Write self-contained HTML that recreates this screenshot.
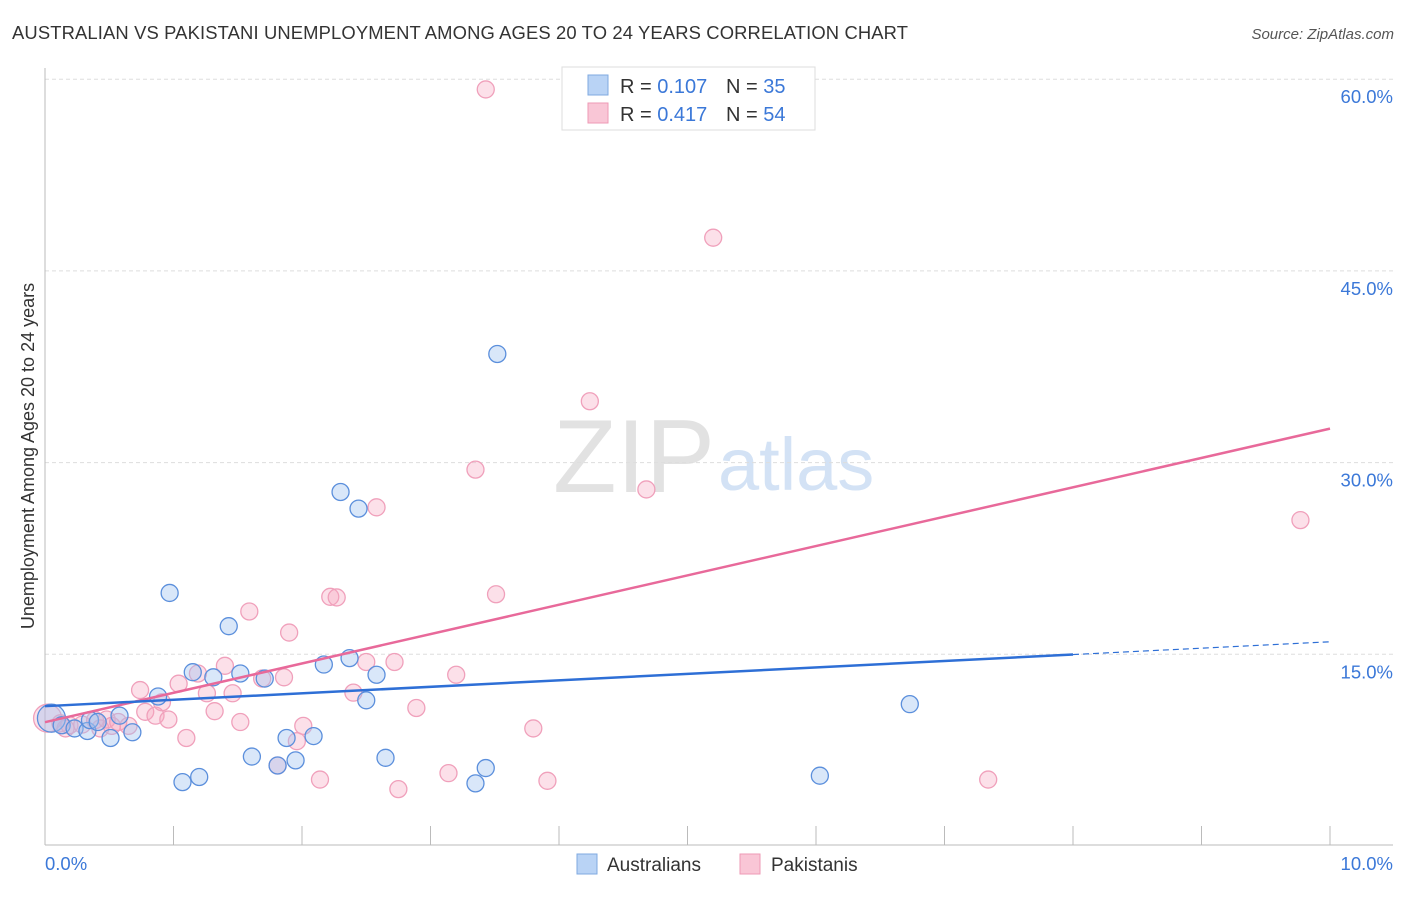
<!DOCTYPE html>
<html><head><meta charset="utf-8"><style>
body{margin:0;background:#fff;font-family:"Liberation Sans",sans-serif}
svg text{font-family:"Liberation Sans",sans-serif}
</style></head><body>
<svg width="1406" height="892" viewBox="0 0 1406 892" xmlns="http://www.w3.org/2000/svg">
<text x="12" y="39" font-size="18.4" fill="#333" textLength="896">AUSTRALIAN VS PAKISTANI UNEMPLOYMENT AMONG AGES 20 TO 24 YEARS CORRELATION CHART</text>
<text x="1394" y="39" font-size="15" fill="#555" text-anchor="end" font-style="italic">Source: ZipAtlas.com</text>
<g>
<text x="553" y="492" font-size="104" fill="#e2e2e2" font-family="Liberation Serif,serif" textLength="162">ZIP</text>
<text x="718" y="490" font-size="74" fill="#d3e2f5">atlas</text>
</g>
<g id="grid"></g>
<g id="axes"></g>
<g id="pts"></g>
<g id="lines"></g>
<g>
<rect x="562" y="67" width="253" height="63" fill="#fff" stroke="#ddd"/>
<rect x="588" y="75" width="20" height="20" fill="#b9d3f5" stroke="#7fa9e0"/>
<rect x="588" y="103" width="20" height="20" fill="#f9c6d6" stroke="#ee9ab5"/>
<text x="620" y="93" font-size="20" fill="#333">R = <tspan fill="#3b78d8">0.107</tspan><tspan x="726">N = </tspan><tspan fill="#3b78d8">35</tspan></text>
<text x="620" y="121" font-size="20" fill="#333">R = <tspan fill="#3b78d8">0.417</tspan><tspan x="726">N = </tspan><tspan fill="#3b78d8">54</tspan></text>
</g>
<g>
<rect x="577" y="854" width="20" height="20" fill="#b9d3f5" stroke="#7fa9e0"/>
<text x="607" y="871" font-size="19" fill="#333">Australians</text>
<rect x="740" y="854" width="20" height="20" fill="#f9c6d6" stroke="#ee9ab5"/>
<text x="771" y="871" font-size="19" fill="#333">Pakistanis</text>
</g>
<text transform="translate(34,456) rotate(-90)" font-size="18" fill="#333" text-anchor="middle">Unemployment Among Ages 20 to 24 years</text>
</svg>
<script>
const yTicks=[15,30,45,60];
const yTickLabels=["15.0%","30.0%","45.0%","60.0%"];
const xTicks=[0,1,2,3,4,5,6,7,8,9,10];
const ausX=[0.05,0.13,0.23,0.33,0.35,0.41,0.51,0.58,0.68,0.88,0.97,1.07,1.2,1.15,1.31,1.43,1.52,1.61,1.71,1.81,1.88,1.95,2.09,2.17,2.3,2.37,2.44,2.5,2.58,2.65,3.35,3.43,3.52,6.03,6.73];
const ausY=[10.0,9.45,9.2,9.0,9.85,9.7,8.45,10.2,8.9,11.7,19.8,5.0,5.4,13.6,13.2,17.2,13.5,7.0,13.1,6.3,8.45,6.7,8.6,14.2,27.7,14.7,26.4,11.4,13.4,6.9,4.9,6.1,38.5,5.5,11.1];
const pakX=[0.02,0.12,0.16,0.19,0.29,0.39,0.43,0.48,0.52,0.57,0.65,0.74,0.78,0.86,0.91,0.96,1.04,1.1,1.19,1.26,1.32,1.4,1.46,1.52,1.59,1.69,1.81,1.86,1.9,1.96,2.01,2.14,2.22,2.27,2.4,2.5,2.58,2.72,2.75,2.89,3.14,3.2,3.35,3.43,3.51,3.8,3.91,4.24,4.68,5.2,7.34,9.77];
const pakY=[10.0,9.6,9.2,9.45,9.5,9.85,9.2,9.9,9.4,9.7,9.4,12.2,10.5,10.2,11.25,9.9,12.7,8.45,13.5,11.95,10.55,14.1,11.95,9.7,18.35,13.1,6.3,13.2,16.7,8.2,9.4,5.2,19.5,19.45,12.0,14.4,26.5,14.4,4.45,10.8,5.7,13.4,29.45,59.2,19.7,9.2,5.1,34.8,27.9,47.6,5.2,25.5];
const ausTrend=[[0,10.94],[8,14.98],[10,15.98]];
const pakTrend=[[0,9.69],[10,32.66]];
const NS="http://www.w3.org/2000/svg";
const X=v=>45+v*128.5, Y=v=>846-v*12.78;
function mk(p,t,a){const e=document.createElementNS(NS,t);for(const k in a)e.setAttribute(k,a[k]);document.getElementById(p).appendChild(e);return e;}
yTicks.forEach((t,i)=>{
 const l=mk('grid','line',{x1:45,x2:1393,y1:Y(t),y2:Y(t),stroke:'#ddd','stroke-dasharray':'4,3'});
 
 
 const tx=mk('grid','text',{x:1393,y:Y(t)+24,'font-size':18.5,fill:'#3b78d8','text-anchor':'end'});
 tx.textContent=yTickLabels[i];
 
 
});
const ax=mk('axes','line',{x1:45,x2:45,y1:68,y2:845,stroke:'#bbb'});


const bx=mk('axes','line',{x1:45,x2:1393,y1:845,y2:845,stroke:'#bbb'});


xTicks.forEach(t=>{if(t===0)return;const l=mk('axes','line',{x1:X(t),x2:X(t),y1:826,y2:845,stroke:'#bbb'});
 
 });
let t0=mk('axes','text',{x:45,y:870,'font-size':18.5,fill:'#3b78d8'});t0.textContent='0.0%';


let t1=mk('axes','text',{x:1393,y:870,'font-size':18.5,fill:'#3b78d8','text-anchor':'end'});t1.textContent='10.0%';


pakX.forEach((x,i)=>{const c=mk('pts','circle',{cx:X(x),cy:Y(pakY[i]),r:i===0?14:8.5,fill:'rgba(245,165,192,0.35)',stroke:'#f0a0bb','stroke-width':1.3});
 
 });
ausX.forEach((x,i)=>{const c=mk('pts','circle',{cx:X(x),cy:Y(ausY[i]),r:i===0?14:8.5,fill:'rgba(160,196,240,0.4)',stroke:'#5b8fdc','stroke-width':1.3});
 
 });
const pl=mk('lines','line',{x1:X(pakTrend[0][0]),y1:Y(pakTrend[0][1]),x2:X(pakTrend[1][0]),y2:Y(pakTrend[1][1]),stroke:'#e8699a','stroke-width':2.5});


const al=mk('lines','line',{x1:X(ausTrend[0][0]),y1:Y(ausTrend[0][1]),x2:X(ausTrend[1][0]),y2:Y(ausTrend[1][1]),stroke:'#2e6fd6','stroke-width':2.5});


const ad=mk('lines','line',{x1:X(ausTrend[1][0]),y1:Y(ausTrend[1][1]),x2:X(ausTrend[2][0]),y2:Y(ausTrend[2][1]),stroke:'#2e6fd6','stroke-width':1.2,'stroke-dasharray':'6,4'});


</script>
</body></html>
